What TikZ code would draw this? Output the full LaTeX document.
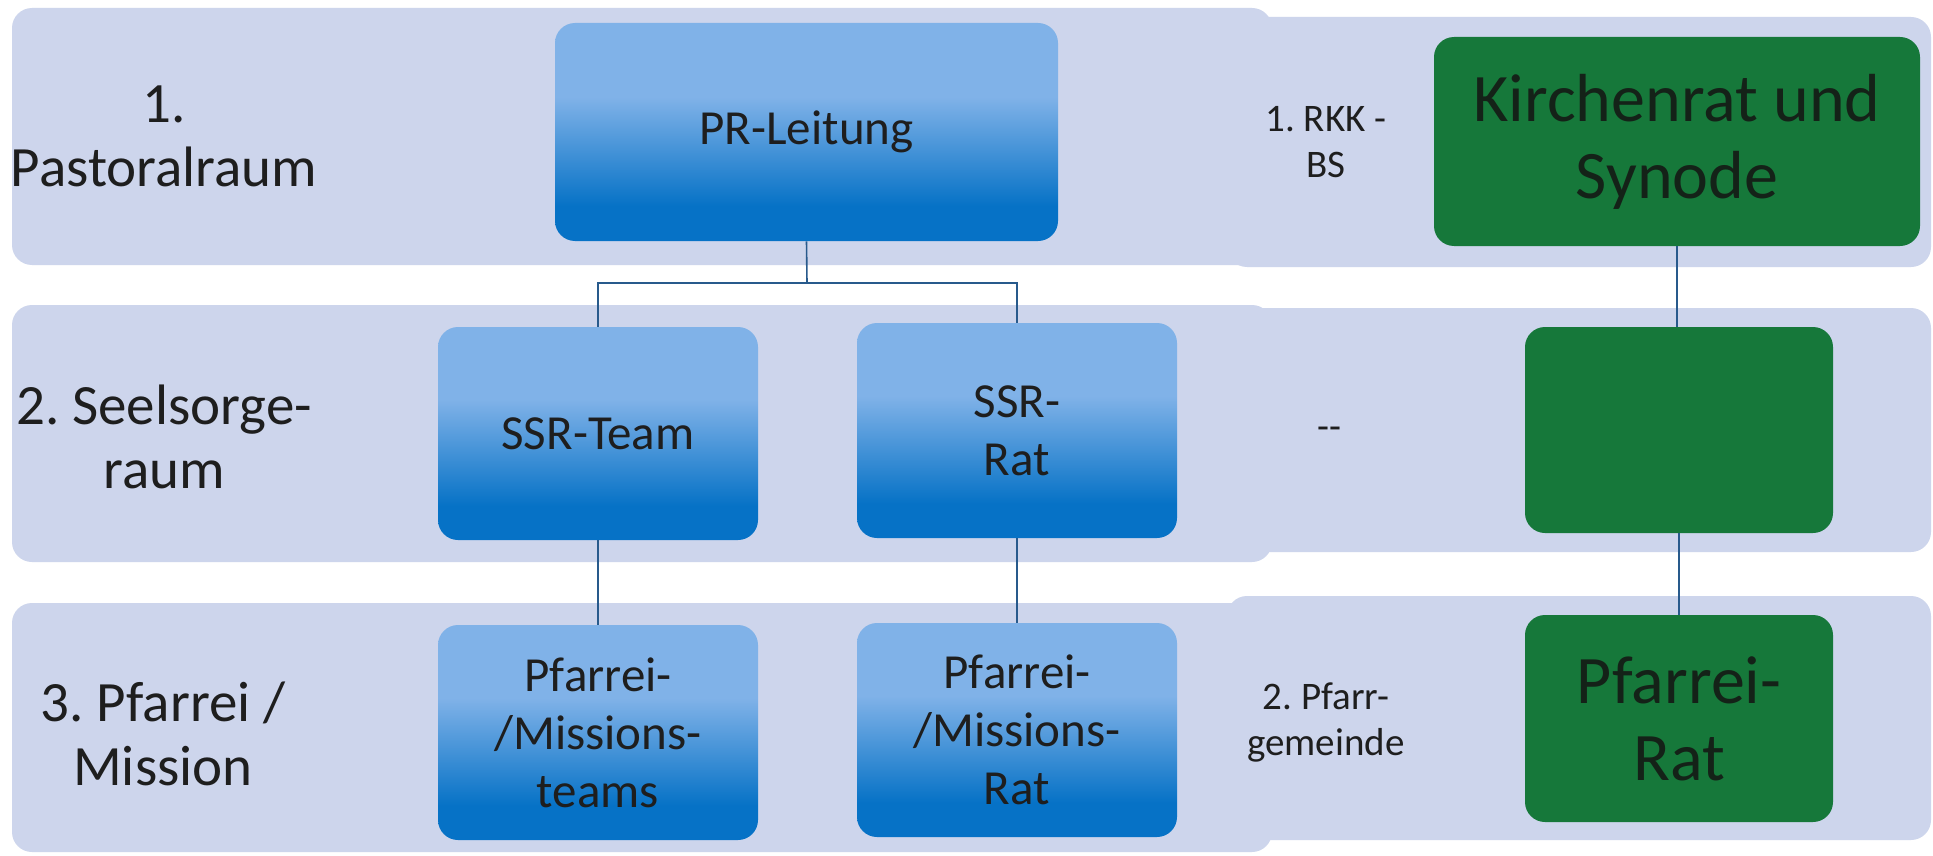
\documentclass[tikz,border=0pt]{standalone}
\usepackage{fontspec}
\setmainfont{Carlito}
\frenchspacing
\definecolor{band}{RGB}{205,213,236}
\definecolor{bluetop}{RGB}{128,178,232}
\definecolor{bluebot}{RGB}{6,114,198}
\definecolor{grn}{RGB}{22,120,58}
\definecolor{txt}{RGB}{30,30,30}
\definecolor{gtxt}{RGB}{20,34,24}
\definecolor{conn}{RGB}{40,90,140}
\pgfdeclareverticalshading{bluegrad}{100bp}{color(0bp)=(bluebot); color(33bp)=(bluebot); color(58bp)=(bluetop); color(100bp)=(bluetop)}
\begin{document}
\begin{tikzpicture}[x=0.5pt,y=-0.5pt,
  bandshape/.style={fill=band, draw=none, rounded corners=10pt},
  bluebox/.style={rectangle, rounded corners=10pt, shading=bluegrad, draw=none, align=center, text=txt, font=\fontsize{24.5}{29}\selectfont, inner sep=0pt},
  greenbox/.style={rectangle, rounded corners=10pt, fill=grn, draw=none, align=center, text=gtxt, font=\fontsize{34}{38.5}\selectfont, inner sep=0pt},
  rowlabel/.style={align=center, text=txt, font=\fontsize{28.5}{32}\selectfont, inner sep=0pt},
  midlabel/.style={align=center, text=txt, font=\fontsize{19.5}{23}\selectfont, inner sep=0pt},
  conline/.style={draw=conn, line width=0.8pt}]
\useasboundingbox (0,0) rectangle (1933,856);
\fill[white] (0,0) rectangle (1933,856);
% bands
\fill[bandshape] (12,8) rectangle (1272,265);
\fill[bandshape] (1227,17) rectangle (1931,267);
\fill[bandshape] (12,305) rectangle (1272,562);
\fill[bandshape] (1227,308) rectangle (1931,552);
\fill[bandshape] (12,603) rectangle (1272,852);
\fill[bandshape] (1227,596) rectangle (1931,840);
% row labels
\node[rowlabel] (l1) at (164,136) {1.\\Pastoralraum};
\node[rowlabel] (l2) at (164,437) {2. Seelsorge-\\raum};
\node[rowlabel] (l3) at (163,734) {3. Pfarrei /\\Mission};
% middle labels
\node[midlabel] (m1) at (1326,142) {1. RKK -\\BS};
\node[midlabel] (m2) at (1329,433) {-{}-};
\node[midlabel] (m3) at (1326,722) {2. Pfarr-\\gemeinde};
% blue boxes
\node[bluebox, minimum width=251.5pt, minimum height=109pt] (pr) at (806.5,132) {PR-Leitung};
\node[bluebox, minimum width=160pt, minimum height=106.5pt] (ssrt) at (598,433.5) {SSR-Team};
\node[bluebox, minimum width=160pt, minimum height=107.5pt] (ssrr) at (1017,430.5) {SSR-\\Rat};
\node[bluebox, minimum width=160pt, minimum height=107.5pt] (pft) at (598,732.5) {Pfarrei-\\/Missions-\\teams};
\node[bluebox, minimum width=160pt, minimum height=107pt] (pfr) at (1017,730) {Pfarrei-\\/Missions-\\Rat};
% green boxes
\node[greenbox, minimum width=243pt, minimum height=104.5pt] (ks) at (1677,141.5) {Kirchenrat und\\Synode};
\node[greenbox, minimum width=154pt, minimum height=103pt] (g2) at (1679,430) {};
\node[greenbox, minimum width=154pt, minimum height=103.5pt] (g3) at (1679,718.5) {Pfarrei-\\Rat};
% connectors
\coordinate (j) at (807,283);
\draw[conline] (pr.south) -- (j);
\draw[conline] (j) -| (ssrt.north);
\draw[conline] (j) -| (ssrr.north);
\draw[conline] (ssrt.south) -- (pft.north);
\draw[conline] (ssrr.south) -- (pfr.north);
\draw[conline] (ks.south) -- (ks.south |- g2.north);
\draw[conline] (g2.south) -- (g3.north);
\end{tikzpicture}
\end{document}
